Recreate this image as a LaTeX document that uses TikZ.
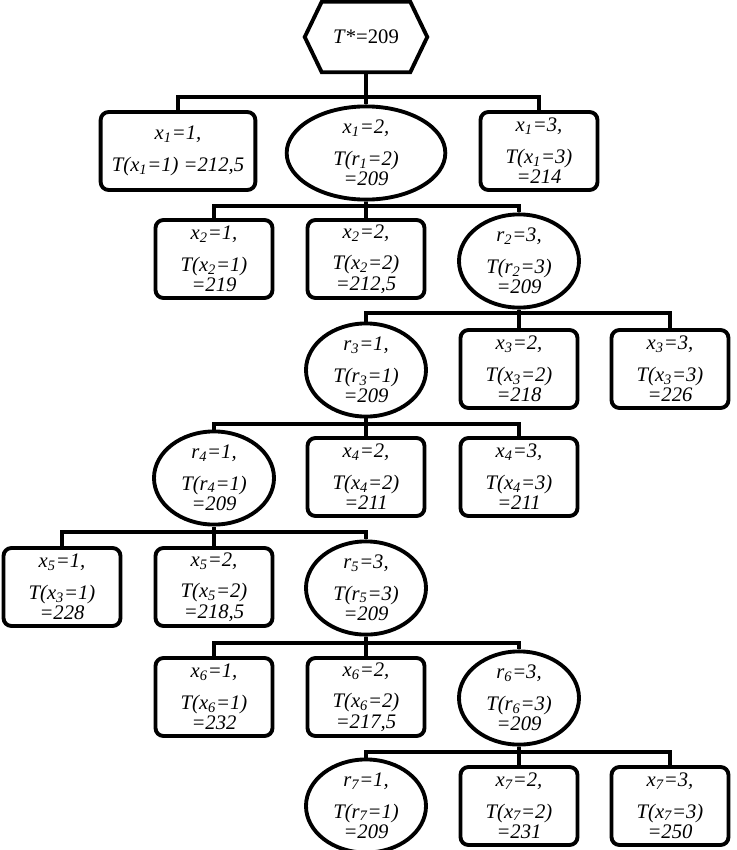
\documentclass[tikz,border=0pt]{standalone}
\usepackage{fontspec}
\setmainfont{Liberation Serif}
\usetikzlibrary{positioning,calc,shapes.geometric}
\tikzstyle{nB}=[rectangle,rounded corners=6pt,draw,line width=2.9pt,minimum width=87.75pt,minimum height=58.5pt,inner sep=0pt,align=center,font=\fontsize{15.5}{15.5}\selectfont\itshape]
\tikzstyle{nE}=[ellipse,draw,line width=2.9pt,minimum width=90pt,minimum height=63pt,inner sep=0pt,align=center,font=\fontsize{15.5}{15.5}\selectfont\itshape]
\tikzstyle{nH}=[minimum width=91.5pt,minimum height=52.5pt,inner sep=0pt,font=\fontsize{15.5}{15.5}\selectfont]
\tikzstyle{eT}=[line width=2.9pt]
\begin{document}
\begin{tikzpicture}[x=0.75pt,y=-0.75pt]
                \useasboundingbox (0,0) rectangle (736,850);
                % root
                \draw (366,37) node[nH] (root) {\textit{T}*=209};
                \draw[eT,line join=miter] ($(root.north west)+(17,0)$) -- ($(root.north east)+(-17,0)$) -- (root.east)
                    -- ($(root.south east)+(-17,0)$) -- ($(root.south west)+(17,0)$) -- (root.west) -- cycle;
                % level 1
                \draw (178,151) node[nB,minimum width=116pt] (a1) {x\textsubscript{1}=1,\\[9pt]T(x\textsubscript{1}=1) =212,5};
                \draw (366,153) node[nE,minimum width=119pt,minimum height=62pt] (e1) {x\textsubscript{1}=2,\\[8pt]T(r\textsubscript{1}=2)\\=209};
                \draw (539,151) node[nB] (a3) {x\textsubscript{1}=3,\\[8pt]T(x\textsubscript{1}=3)\\=214};
                % level 2
                \draw (214,259) node[nB] (b1) {x\textsubscript{2}=1,\\[8pt]T(x\textsubscript{2}=1)\\=219};
                \draw (366,259) node[nB] (b2) {x\textsubscript{2}=2,\\[8pt]T(x\textsubscript{2}=2)\\=212,5};
                \draw (519,261) node[nE] (e2) {r\textsubscript{2}=3,\\[8pt]T(r\textsubscript{2}=3)\\=209};
                % level 3
                \draw (366,370) node[nE] (e3) {r\textsubscript{3}=1,\\[8pt]T(r\textsubscript{3}=1)\\=209};
                \draw (519,369) node[nB] (c2) {x\textsubscript{3}=2,\\[8pt]T(x\textsubscript{3}=2)\\=218};
                \draw (670,369) node[nB] (c3) {x\textsubscript{3}=3,\\[8pt]T(x\textsubscript{3}=3)\\=226};
                % level 4
                \draw (214,478) node[nE] (e4) {r\textsubscript{4}=1,\\[8pt]T(r\textsubscript{4}=1)\\=209};
                \draw (366,477) node[nB] (d2) {x\textsubscript{4}=2,\\[8pt]T(x\textsubscript{4}=2)\\=211};
                \draw (519,477) node[nB] (d3) {x\textsubscript{4}=3,\\[8pt]T(x\textsubscript{4}=3)\\=211};
                % level 5
                \draw (62,587) node[nB] (f1) {x\textsubscript{5}=1,\\[8pt]T(x\textsubscript{3}=1)\\=228};
                \draw (214,587) node[nB] (f2) {x\textsubscript{5}=2,\\[8pt]T(x\textsubscript{5}=2)\\=218,5};
                \draw (366,588) node[nE] (e5) {r\textsubscript{5}=3,\\[8pt]T(r\textsubscript{5}=3)\\=209};
                % level 6
                \draw (214,697) node[nB] (g1) {x\textsubscript{6}=1,\\[8pt]T(x\textsubscript{6}=1)\\=232};
                \draw (366,697) node[nB] (g2) {x\textsubscript{6}=2,\\[8pt]T(x\textsubscript{6}=2)\\=217,5};
                \draw (519,698) node[nE] (e6) {r\textsubscript{6}=3,\\[8pt]T(r\textsubscript{6}=3)\\=209};
                % level 7
                \draw (366,806) node[nE] (e7) {r\textsubscript{7}=1,\\[8pt]T(r\textsubscript{7}=1)\\=209};
                \draw (519,806) node[nB] (h2) {x\textsubscript{7}=2,\\[8pt]T(x\textsubscript{7}=2)\\=231};
                \draw (670,806) node[nB] (h3) {x\textsubscript{7}=3,\\[8pt]T(x\textsubscript{7}=3)\\=250};
                % junctions
                \coordinate (j1) at (366,97);
                \coordinate (j2) at (366,206);
                \coordinate (j3) at (519,313);
                \coordinate (j4) at (366,424);
                \coordinate (j5) at (214,532);
                \coordinate (j6) at (366,643);
                \coordinate (j7) at (519,752);
                \draw[eT] (root.south) -- (j1) -- (e1.north);
                \draw[eT] (a1.north) |- (j1) -| (a3.north);
                \draw[eT] (e1.south) -- (j2) -- (b2.north);
                \draw[eT] (b1.north) |- (j2) -| (e2.north);
                \draw[eT] (e2.south) -- (j3) -- (c2.north);
                \draw[eT] (e3.north) |- (j3) -| (c3.north);
                \draw[eT] (e3.south) -- (j4) -- (d2.north);
                \draw[eT] (e4.north) |- (j4) -| (d3.north);
                \draw[eT] (e4.south) -- (j5) -- (f2.north);
                \draw[eT] (f1.north) |- (j5) -| (e5.north);
                \draw[eT] (e5.south) -- (j6) -- (g2.north);
                \draw[eT] (g1.north) |- (j6) -| (e6.north);
                \draw[eT] (e6.south) -- (j7) -- (h2.north);
                \draw[eT] (e7.north) |- (j7) -| (h3.north);
        \end{tikzpicture}
\end{document}
